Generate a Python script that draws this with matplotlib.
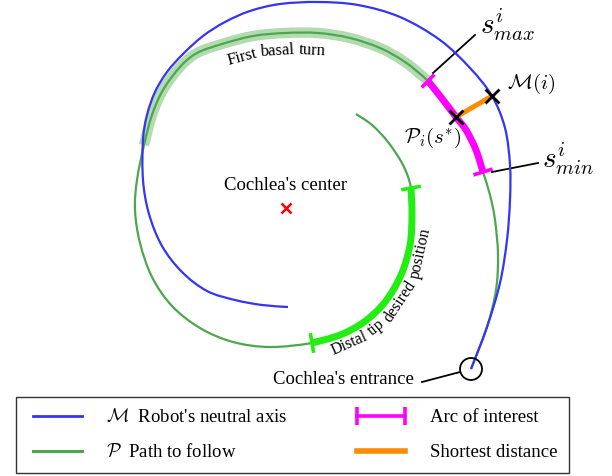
import numpy as np
import matplotlib
matplotlib.use("Agg")
import matplotlib.pyplot as plt
from matplotlib.path import Path
from matplotlib.patches import PathPatch, Circle
from matplotlib.lines import Line2D

plt.rcParams['font.family'] = ['Liberation Serif', 'DejaVu Serif']
plt.rcParams['mathtext.fontset'] = 'cm'

# ---------------- data (pixel-like diagram units) ----
# Robot's neutral axis M (from inner end to cochlea entrance)
robot_x = [288, 262, 235, 207, 182, 162, 149, 143, 143, 147, 155, 167, 183, 203,
           225, 250, 280, 318, 358, 400, 440, 470, 492, 505, 510, 510, 507, 500,
           487, 471]
robot_y = [307, 305, 300, 291, 272, 246, 214, 180, 140, 115, 92, 72, 54, 36,
           22, 11, 4, 2, 5, 17, 40, 68, 96, 128, 165, 200, 240, 283,
           327, 369]

# Path to follow P (from cochlea entrance to its inner end)
path_x = [471, 487, 496, 498, 495, 490, 483, 476, 466, 456, 440, 428, 405, 380,
          350, 318, 285, 253, 222, 197, 180, 163, 152, 144, 137, 135, 140, 152,
          172, 200, 233, 270, 312, 340, 364, 385, 401, 410, 412, 411, 403, 388,
          372, 356]
path_y = [369, 327, 290, 255, 220, 195, 172, 150, 130, 117, 96, 81, 62, 48,
          38, 33, 33, 36, 44, 53, 67, 90, 115, 145, 180, 210, 243, 277,
          306, 328, 342, 347, 343, 335, 322, 302, 275, 245, 215, 188, 165, 142,
          125, 114]

# index ranges along the path
arc_interest = (6, 11)       # s_min -> s_max
basal_turn = (11, 23)        # first basal turn highlight
distal_tip = (32, 39)        # distal tip desired position

# shortest distance segment: P_i(s*) -> M(i)
short_x = [456, 492]
short_y = [117, 96]

center_xy = (286, 208)
entrance_xy = (471, 369)

basal_words = ["First", "basal", "turn"]
distal_words = ["Distal", "tip", "desired", "position"]

legend_labels = [r"$\mathcal{M}$  Robot's neutral axis",
                 r"$\mathcal{P}$  Path to follow",
                 "Arc of interest",
                 "Shortest distance"]


# ---------------- helpers ----------------
def bezier_controls(xs, ys):
    P = np.column_stack([xs, ys]).astype(float)
    E = np.vstack([P[0], P, P[-1]])
    segs = []
    for i in range(1, len(E) - 2):
        p0, p1, p2, p3 = E[i - 1], E[i], E[i + 1], E[i + 2]
        segs.append((p1, p1 + (p2 - p0) / 6.0, p2 - (p3 - p1) / 6.0, p2))
    return segs


def smooth_path(xs, ys):
    segs = bezier_controls(xs, ys)
    verts = [segs[0][0]]
    codes = [Path.MOVETO]
    for p1, c1, c2, p2 in segs:
        verts += [c1, c2, p2]
        codes += [Path.CURVE4] * 3
    return Path(verts, codes)


def dense_points(xs, ys, n=16):
    pts = []
    t = np.linspace(0, 1, n, endpoint=False)[:, None]
    for p1, c1, c2, p2 in bezier_controls(xs, ys):
        pts.append((1 - t) ** 3 * p1 + 3 * (1 - t) ** 2 * t * c1
                   + 3 * (1 - t) * t ** 2 * c2 + t ** 3 * p2)
    pts.append(np.array([[xs[-1], ys[-1]]], float))
    return np.vstack(pts)


def draw_curve(ax, xs, ys, **kw):
    patch = PathPatch(smooth_path(xs, ys), fill=False, **kw)
    ax.add_patch(patch)
    return patch


def end_tick(ax, xs, ys, i, half, **kw):
    n = len(xs)
    a = max(i - 1, 0)
    b = min(i + 1, n - 1)
    t = np.array([xs[b] - xs[a], ys[b] - ys[a]], float)
    t /= np.hypot(*t)
    nrm = np.array([-t[1], t[0]])
    p = np.array([xs[i], ys[i]], float)
    q1, q2 = p - half * nrm, p + half * nrm
    ax.plot([q1[0], q2[0]], [q1[1], q2[1]], solid_capstyle='butt', **kw)


def text_along(ax, words, xs, ys, start_xy, offset, fontsize):
    pts = dense_points(xs, ys)
    tan = np.gradient(pts, axis=0)
    tan /= np.hypot(tan[:, 0], tan[:, 1])[:, None]
    nrm = np.column_stack([-tan[:, 1], tan[:, 0]])
    base = pts + offset * nrm
    seg = np.hypot(*np.diff(base, axis=0).T)
    s = np.concatenate([[0], np.cumsum(seg)])
    i0 = np.argmin(np.hypot(base[:, 0] - start_xy[0], base[:, 1] - start_xy[1]))
    pos = s[i0]
    renderer = ax.figure.canvas.get_renderer()
    space = 0.25 * fontsize * 100 / 72
    for w in words:
        t = ax.text(0, 0, w, fontsize=fontsize, ha='center', va='center',
                    rotation_mode='anchor')
        width = t.get_window_extent(renderer).width
        c = pos + width / 2
        x = np.interp(c, s, base[:, 0])
        y = np.interp(c, s, base[:, 1])
        tx = np.interp(c, s, tan[:, 0])
        ty = np.interp(c, s, tan[:, 1])
        t.set_position((x, y))
        t.set_rotation(np.degrees(np.arctan2(-ty, tx)))
        pos += width + space


# ---------------- figure ----------------
fig = plt.figure(figsize=(6.12, 4.76), dpi=100)
ax = fig.add_axes([0, 0, 1, 1])
ax.set_xlim(0, 612)
ax.set_ylim(476, 0)
ax.axis('off')

green = '#4ea64e'
blue = '#3434f4'
lime = '#22ee11'
magenta = '#ff00ff'
orange = '#ff8c00'

# first basal turn band
s, e = basal_turn
draw_curve(ax, path_x[s:e + 1], path_y[s:e + 1], edgecolor='#b3dbb0', lw=7.5,
           capstyle='butt', zorder=1)
# path to follow
draw_curve(ax, path_x, path_y, edgecolor=green, lw=1.6, zorder=2)
# distal tip
s, e = distal_tip
draw_curve(ax, path_x[s:e + 1], path_y[s:e + 1], edgecolor=lime, lw=5,
           capstyle='butt', zorder=3)
end_tick(ax, path_x, path_y, s, 10, color=lime, lw=2.6, zorder=3)
end_tick(ax, path_x, path_y, e, 10, color=lime, lw=2.6, zorder=3)
# arc of interest
s, e = arc_interest
draw_curve(ax, path_x[s:e + 1], path_y[s:e + 1], edgecolor=magenta, lw=5,
           capstyle='butt', zorder=4)
end_tick(ax, path_x, path_y, s, 10, color=magenta, lw=2.6, zorder=4)
end_tick(ax, path_x, path_y, e, 9, color=magenta, lw=2.6, zorder=4)
# robot neutral axis
draw_curve(ax, robot_x, robot_y, edgecolor=blue, lw=1.6, zorder=5)
# shortest distance
ax.plot(short_x, short_y, color=orange, lw=3.6, solid_capstyle='butt', zorder=6)
ax.plot(short_x, short_y, ls='none', marker='x', ms=10, mew=2, color='black',
        zorder=7)

# center marker
ax.plot([center_xy[0]], [center_xy[1]], ls='none', marker='x', ms=6.5, mew=1.8,
        color='red', zorder=7)
ax.text(center_xy[0], 190, "Cochlea's center", ha='center', va='baseline',
        fontsize=13.5)

# entrance
ax.add_patch(Circle(entrance_xy, 11, fill=False, ec='black', lw=1.3, zorder=8))
ax.plot([422, 460], [382, 372], color='black', lw=1.3)
ax.text(414, 384, "Cochlea's entrance", ha='right', va='baseline', fontsize=13.5)

# annotations
ax.plot([433, 475], [73, 35], color='black', lw=1.3, zorder=3)
ax.text(480, 25, r"$s^{i}_{max}$", ha='left', va='center', fontsize=21)
ax.plot([492, 538], [172, 163], color='black', lw=1.3, zorder=3)
ax.text(542, 159, r"$s^{i}_{min}$", ha='left', va='center', fontsize=21)
ax.text(507, 84, r"$\mathcal{M}(i)$", ha='left', va='center', fontsize=15)
ax.text(461, 138, r"$\mathcal{P}_i(s^{*})$", ha='right', va='center', fontsize=15)

# curved labels following the path
s, e = basal_turn
text_along(ax, basal_words, path_x[e:s - 1:-1], path_y[e:s - 1:-1],
           (231, 72), 18, 12)
s, e = distal_tip
text_along(ax, distal_words, path_x[s:e + 1], path_y[s:e + 1],
           (332, 352), 12, 11.5)

# legend
handles = [Line2D([], [], color=blue, lw=2),
           Line2D([], [], color=green, lw=2.2),
           Line2D([], [], color=magenta, lw=2.6, marker='|', ms=13, mew=2.6),
           Line2D([], [], color=orange, lw=4)]
leg = fig.legend(handles, legend_labels, ncol=2, loc='upper left',
                 bbox_to_anchor=(16 / 612, 1 - 397 / 476),
                 borderaxespad=0, numpoints=2, fontsize=13.5, frameon=True,
                 fancybox=False, edgecolor='black', handlelength=3.2,
                 handletextpad=1.0, labelspacing=0.95, borderpad=0.6,
                 columnspacing=3.4)
leg.get_frame().set_linewidth(1.0)

fig.savefig('out.png', dpi=100)
